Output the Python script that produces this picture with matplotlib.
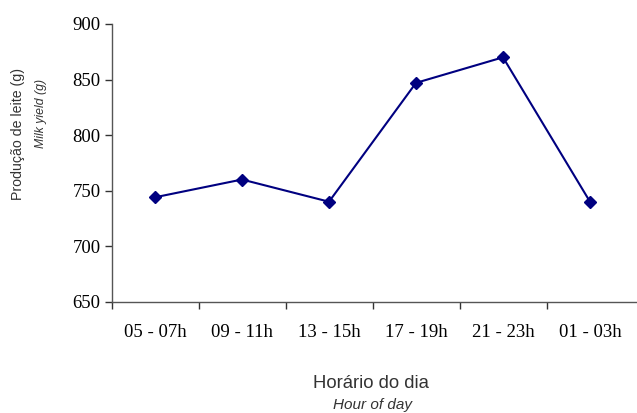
import matplotlib
matplotlib.use("Agg")
import matplotlib.pyplot as plt
import numpy as np

# Milk yield by time of day
periods = ["05 - 07h", "09 - 11h", "13 - 15h", "17 - 19h", "21 - 23h", "01 - 03h"]
milk_yield = [744, 760, 740, 847, 870, 740]
y_ticks = [650, 700, 750, 800, 850, 900]

W, H = 637, 413
fig = plt.figure(figsize=(W / 100, H / 100), dpi=100)
ax = fig.add_axes([111.5 / W, 1 - 301.7 / H, (W - 111.5) / W, (301.7 - 24) / H])

x = np.arange(1, len(periods) + 1)
ax.plot(x, milk_yield, color="#000080", lw=1.5, marker="D", ms=6.5,
        markerfacecolor="#000080", markeredgecolor="#000080", clip_on=False, zorder=3)

ax.set_xlim(0.5, 0.5 + (W - 111.5) / 87)
ax.set_ylim(650, 900)

for s in ("top", "right"):
    ax.spines[s].set_visible(False)
for s in ("left", "bottom"):
    ax.spines[s].set_color("#555555")
    ax.spines[s].set_linewidth(1.0)

serif = "Liberation Serif"
ax.set_yticks(y_ticks)
ax.set_yticklabels([str(v) for v in y_ticks], fontfamily=serif, fontsize=13.5)
ax.tick_params(axis="y", direction="out", length=5, width=1, color="#333333", pad=3)

# category boundaries carry the tick marks, labels sit at the centres
ax.set_xticks(np.arange(0.5, len(periods), 1.0), minor=True)
ax.set_xticks(x)
ax.set_xticklabels(periods, fontfamily=serif, fontsize=13.5)
ax.tick_params(axis="x", which="major", length=0, pad=16)
ax.tick_params(axis="x", which="minor", direction="out", length=5, width=1, color="#333333")

sans = "Liberation Sans"
fig.text(18 / W, 1 - 134 / H, "Produção de leite (g)", rotation=90, ha="center", va="center",
         fontfamily=sans, fontsize=10.2, color="#333333")
fig.text(41 / W, 1 - 113 / H, "Milk yield (g)", rotation=90, ha="center", va="center",
         fontfamily=sans, fontsize=8.8, style="italic", color="#333333")
fig.text(371 / W, 1 - 384 / H, "Horário do dia", ha="center", va="center",
         fontfamily=sans, fontsize=13.3, color="#333333")
fig.text(372 / W, 1 - 405 / H, "Hour of day", ha="center", va="center",
         fontfamily=sans, fontsize=11, style="italic", color="#333333")

fig.savefig("out.png", dpi=100)
